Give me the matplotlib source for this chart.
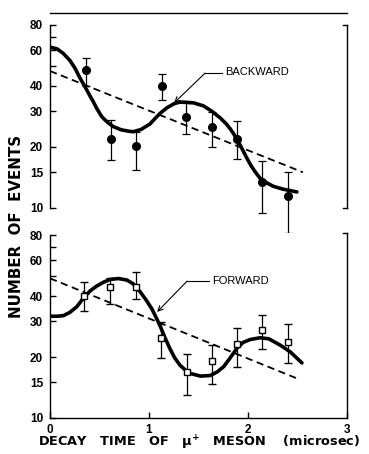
import matplotlib
matplotlib.use("Agg")
import matplotlib.pyplot as plt
from matplotlib.ticker import FixedLocator, NullFormatter, FixedFormatter

plt.rcParams['font.family'] = ['Liberation Sans', 'DejaVu Sans']

# ---------------- data ----------------
# Backward (top panel)
back_t = [0.364, 0.614, 0.870, 1.129, 1.375, 1.635, 1.888, 2.140, 2.400]
back_n = [48.0, 21.9, 20.2, 40.0, 28.2, 25.0, 21.8, 13.5, 11.4]
back_hi = [55.1, 27.2, 23.8, 45.8, 32.8, 29.9, 26.8, 17.1, 15.1]
back_lo = [40.0, 17.3, 15.4, 34.1, 23.2, 20.1, 17.4, 9.5, 7.55]

back_fit_t = [0.00, 0.07, 0.134, 0.20, 0.253, 0.30, 0.354, 0.40, 0.438, 0.472, 0.523,
              0.58, 0.64, 0.72, 0.80, 0.843, 0.92, 1.011, 1.06, 1.112, 1.18, 1.254,
              1.30, 1.348, 1.45, 1.55, 1.635, 1.72, 1.78, 1.82, 1.86, 1.894, 1.94,
              1.989, 2.03, 2.08, 2.123, 2.19, 2.255, 2.35, 2.42, 2.494]
back_fit_n = [62.1, 61.0, 57.9, 53.5, 48.9, 44.0, 39.6, 36.0, 33.4, 31.0, 28.2,
              26.5, 25.2, 24.3, 23.9, 23.8, 24.4, 26.0, 27.6, 29.3, 31.2, 32.7,
              33.2, 33.3, 33.0, 31.9, 30.0, 27.8, 26.0, 24.6, 23.0, 21.6, 19.6,
              17.6, 16.2, 14.9, 14.0, 13.3, 12.8, 12.4, 12.2, 12.0]

back_exp_t = [0.0, 2.555]
back_exp_n = [47.4, 15.0]

# Forward (bottom panel)
fwd_t = [0.347, 0.607, 0.870, 1.119, 1.382, 1.635, 1.888, 2.140, 2.400]
fwd_n = [40.0, 44.5, 44.5, 24.7, 16.9, 19.1, 23.1, 27.2, 23.8]
fwd_hi = [46.7, 49.2, 52.4, 29.9, 20.7, 22.8, 27.9, 32.2, 29.0]
fwd_lo = [33.7, 36.4, 38.6, 19.7, 13.0, 14.8, 17.9, 21.9, 18.6]

fwd_fit_t = [0.00, 0.07, 0.134, 0.20, 0.27, 0.354, 0.41, 0.472, 0.54, 0.607, 0.69,
             0.775, 0.84, 0.91, 0.97, 1.03, 1.07, 1.112, 1.16, 1.213, 1.26, 1.314,
             1.37, 1.416, 1.52, 1.618, 1.69, 1.753, 1.82, 1.888, 1.95, 2.022,
             2.123, 2.21, 2.325, 2.427, 2.545]
fwd_fit_n = [31.8, 31.8, 32.0, 33.2, 35.4, 40.0, 42.6, 44.8, 46.8, 48.3, 48.8,
             48.0, 46.0, 42.0, 38.3, 34.5, 31.5, 28.5, 25.0, 21.9, 19.8, 18.2,
             17.2, 16.6, 16.1, 16.2, 16.9, 17.9, 19.8, 22.1, 23.6, 24.4,
             24.9, 24.6, 22.9, 21.2, 18.7]

fwd_exp_t = [0.0, 2.52]
fwd_exp_n = [48.9, 15.5]

ytick_vals = [10, 15, 20, 30, 40, 60, 80]
ytick_labels = ['10', '15', '20', '30', '40', '60', '80']
yminor_vals = [50, 70]
xtick_vals = [0, 1, 2, 3]
xtick_labels = ['0', '1', '2', '3']

# ---------------- figure ----------------
W, H = 369, 454
fig = plt.figure(figsize=(W / 100, H / 100), dpi=100)
ax1 = fig.add_axes([50 / W, 1 - 208 / H, 297 / W, 195 / H])
ax2 = fig.add_axes([50 / W, 1 - 418 / H, 297 / W, 185 / H])

for ax in (ax1, ax2):
    ax.set_yscale('log')
    ax.set_xlim(0, 3)
    ax.yaxis.set_major_locator(FixedLocator(ytick_vals))
    ax.yaxis.set_major_formatter(FixedFormatter(ytick_labels))
    ax.yaxis.set_minor_locator(FixedLocator(yminor_vals))
    ax.yaxis.set_minor_formatter(NullFormatter())
    ax.tick_params(axis='y', which='both', direction='in', length=4, width=1,
                   pad=5, labelsize=8.5, left=True, right=False)
    for lab in ax.get_yticklabels():
        lab.set_fontweight('bold')
    ax.spines['left'].set_bounds(10, 80)
    for s in ax.spines.values():
        s.set_linewidth(1.0)

ax1.set_ylim(10, 91.6)
ax2.set_ylim(10, 81.9)

# top panel spines
ax1.spines['bottom'].set_visible(False)
ax1.spines['right'].set_bounds(10, 80)
ax1.tick_params(axis='x', which='both', bottom=False, labelbottom=False)
# bottom panel spines
ax2.spines['top'].set_visible(False)
ax2.xaxis.set_major_locator(FixedLocator(xtick_vals))
ax2.xaxis.set_major_formatter(FixedFormatter(xtick_labels))
ax2.tick_params(axis='x', direction='in', length=4, width=1, pad=4, labelsize=8.5)
for lab in ax2.get_xticklabels():
    lab.set_fontweight('bold')

# bracket end ticks on right
tr1 = ax1.get_yaxis_transform()
ax1.plot([0.985, 1.0], [80, 80], transform=tr1, color='black', lw=1, clip_on=False)
ax1.plot([0.985, 1.0], [10, 10], transform=tr1, color='black', lw=1, clip_on=False)
tr2 = ax2.get_yaxis_transform()
ax2.plot([0.985, 1.0], [81.9, 81.9], transform=tr2, color='black', lw=1, clip_on=False)

# ---- top panel content ----
ax1.plot(back_exp_t, back_exp_n, color='black', lw=1.3, ls=(0, (4, 2.5)))
ax1.plot(back_fit_t, back_fit_n, color='black', lw=2.6, solid_joinstyle='round',
         solid_capstyle='round')
ax1.errorbar(back_t, back_n,
             yerr=[[n - l for n, l in zip(back_n, back_lo)],
                   [h - n for n, h in zip(back_n, back_hi)]],
             fmt='o', color='black', ms=5.5, ecolor='black', elinewidth=0.9,
             capsize=3, capthick=0.9, clip_on=False)

ax1.text(1.77, 46.9, 'BACKWARD', fontsize=8, va='center', ha='left')
ax1.plot([1.567, 1.74], [46.3, 46.3], color='black', lw=0.8)
ax1.annotate('', xy=(1.254, 33.0), xytext=(1.567, 46.3),
             arrowprops=dict(arrowstyle='->', color='black', lw=0.8,
                             shrinkA=0, shrinkB=0, mutation_scale=9))

# ---- bottom panel content ----
ax2.plot(fwd_exp_t, fwd_exp_n, color='black', lw=1.3, ls=(0, (4, 2.5)))
ax2.plot(fwd_fit_t, fwd_fit_n, color='black', lw=2.6, solid_joinstyle='round',
         solid_capstyle='round')
ax2.errorbar(fwd_t, fwd_n,
             yerr=[[n - l for n, l in zip(fwd_n, fwd_lo)],
                   [h - n for n, h in zip(fwd_n, fwd_hi)]],
             fmt='s', color='black', mfc='white', mec='black', mew=1.0, ms=4,
             ecolor='black', elinewidth=0.9, capsize=3, capthick=0.9)

ax2.text(1.64, 47.4, 'FORWARD', fontsize=8, va='center', ha='left')
ax2.plot([1.385, 1.61], [47.4, 47.4], color='black', lw=0.8)
ax2.annotate('', xy=(1.082, 33.4), xytext=(1.385, 47.4),
             arrowprops=dict(arrowstyle='->', color='black', lw=0.8,
                             shrinkA=0, shrinkB=0, mutation_scale=9))

fig.text(199 / W, 1 - 447 / H, 'DECAY   TIME   OF   $\\mathregular{\\mu^{+}}$   MESON    (microsec)',
         fontsize=9.3, fontweight='bold', ha='center', va='baseline',
         family='DejaVu Sans')
fig.text(17 / W, 1 - 226 / H, 'NUMBER  OF  EVENTS', rotation=90, fontsize=10.8,
         fontweight='bold', ha='center', va='center', family='DejaVu Sans')

fig.savefig('out.png', dpi=100)
